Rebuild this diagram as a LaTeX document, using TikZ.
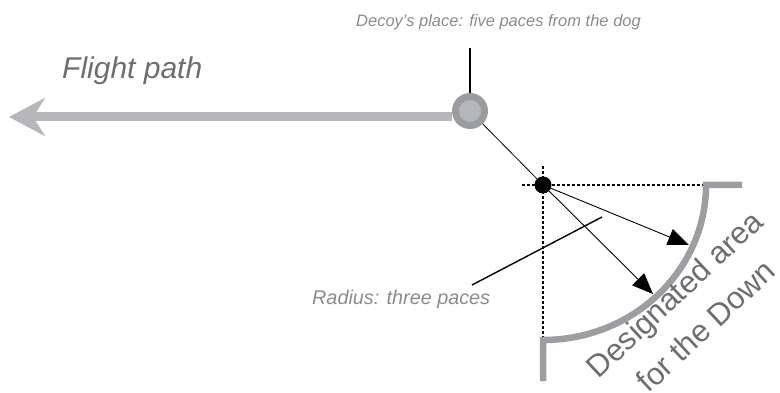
\documentclass[tikz,border=0pt]{standalone}
\usepackage{fontspec}
\setmainfont{Liberation Sans}
\usepackage{tikz}
\usetikzlibrary{arrows.meta, positioning, calc}
\usepackage{xcolor}

\definecolor{flightgray}{HTML}{B5B7BA}
\definecolor{ringgray}{HTML}{9B9C9F}
\definecolor{areagray}{HTML}{9D9EA1}
\definecolor{labelgray}{HTML}{6D6E71}
\definecolor{notegray}{HTML}{8A8B8E}

\begin{document}
\begin{tikzpicture}[
        x=1pt, y=-1pt,
        note/.style={font=\fontsize{16.5}{19}\selectfont\itshape, text=notegray, inner sep=0pt},
        flight/.style={line width=9pt, draw=flightgray, -{Stealth[length=36pt, width=38pt, inset=12pt]}},
        leader/.style={draw=black, line width=1.4pt},
        radiusarr/.style={draw=black, line width=0.9pt, -{Triangle[length=21pt, width=17pt]}},
        guide/.style={draw=black, line width=2pt, dash pattern=on 2.6pt off 2.4pt},
        area/.style={draw=areagray, line width=6.5pt, line join=miter},
        arealine/.style={font=\fontsize{31}{36}\selectfont, text=labelgray, rotate=43, anchor=base, inner sep=0pt},
    ]
        \useasboundingbox (0,0) rectangle (780,393);

        % Decoy with its label
        \node[note, anchor=base west] (decoylabel) at (356,27) {Decoy’s place: five paces from the dog};
        \node[circle, fill=flightgray, draw=ringgray, line width=7pt, minimum size=29pt, inner sep=0pt] (decoy) at (470,111) {};
        \coordinate (decoytop) at (470,48);
        \draw[leader] (decoytop) -- (decoy.north);

        % Flight path
        \coordinate (flightstart) at (452,117);
        \coordinate (flightend) at (9,117);
        \draw[flight] (flightstart) -- (flightend);
        \node[font=\fontsize{30}{36}\selectfont\itshape, text=labelgray, anchor=base west, inner sep=0pt] (flightlabel) at (62,79) {Flight path};

        % Dog and the guide lines through it
        \coordinate (dogc) at (543,185);
        \coordinate (guideW) at (522,185);
        \coordinate (guideE) at (706,185);
        \coordinate (guideN) at (543,166);
        \coordinate (guideS) at (543,337);
        \draw[guide] (guideW) -- (guideE);
        \draw[guide] (guideN) -- (guideS);
        \node[circle, fill=black, minimum size=17pt, inner sep=0pt] (dog) at (dogc) {};
        \draw[line width=0.8pt] (decoy) -- (dog);

        % Border of the area
        \coordinate (areaE) at (742,185);
        \coordinate (areaS) at (543,381);
        \draw[area] (areaE) -- (706,185) arc[start angle=0, end angle=90, x radius=163, y radius=155] -- (areaS);

        % Radius arrows
        \coordinate (reach1) at (689,245);
        \coordinate (reach2) at (653,294);
        \draw[radiusarr] (dog) -- (reach1);
        \draw[radiusarr] (dog) -- (reach2);

        % Radius label
        \node[note, font=\fontsize{19.8}{23}\selectfont\itshape, anchor=base west] (radiuslabel) at (312,305) {Radius: three paces};
        \coordinate (radiusA) at (472,285);
        \coordinate (radiusB) at (602,217);
        \draw[leader] (radiusA) -- (radiusB);

        % Area label, one node per line
        \node[arealine] (area1) at (682,302) {Designated area};
        \node[arealine] (area2) at (713,334) {for the Down};
    \end{tikzpicture}
\end{document}
